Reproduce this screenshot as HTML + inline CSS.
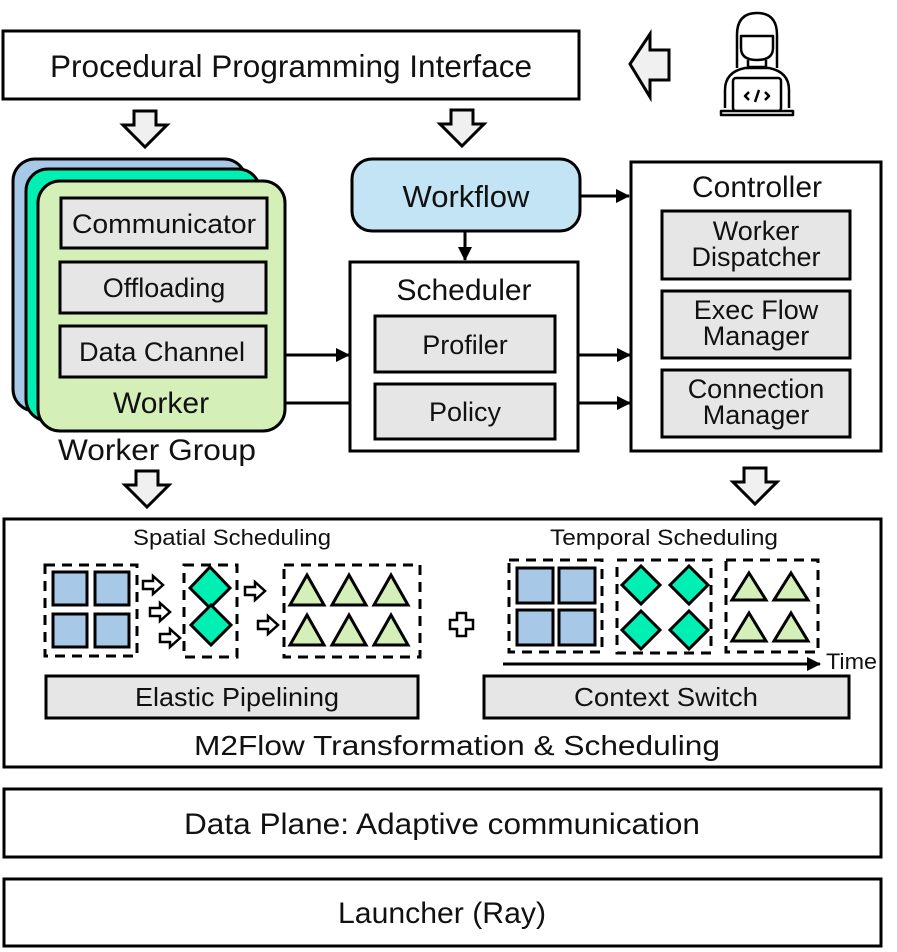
<!DOCTYPE html>
<html><head><meta charset="utf-8"><style>
html,body{margin:0;padding:0;background:#fff;}
svg{display:block;}
text{font-family:"Liberation Sans",sans-serif;fill:#111;}
</style></head><body>
<svg width="897" height="952" viewBox="0 0 897 952" xmlns="http://www.w3.org/2000/svg">
<defs>
<marker id="ah" markerWidth="14" markerHeight="14" refX="13" refY="7" orient="auto" markerUnits="userSpaceOnUse" viewBox="0 0 14 14"><path d="M0,0 L14,7 L0,14 z" fill="#000"/></marker>
<g id="dn"><path d="M-11,0 H11 V14 H22 L0,36 L-22,14 H-11 Z" fill="#f0f0f0" stroke="#000" stroke-width="3" stroke-linejoin="miter"/></g>
<g id="sa"><path d="M0,-4 H10 V-9 L20,0 L10,9 V4 H0 Z" fill="#fff" stroke="#000" stroke-width="2.5"/></g>
</defs>

<rect x="3" y="31" width="576" height="68" fill="#fff" stroke="#000" stroke-width="3"/>
<text x="291" y="77" font-size="31.5" text-anchor="middle" textLength="482" lengthAdjust="spacingAndGlyphs">Procedural Programming Interface</text>
<path d="M630,64 L650,34 V50 H669 V80 H650 V97 Z" fill="#f0f0f0" stroke="#000" stroke-width="3"/>
<g fill="none" stroke="#000" stroke-width="2.5" stroke-linejoin="round">
<path d="M737,68 V35 Q737,13 757,13 Q777,13 777,35 V68"/>
<path d="M741,36 H773 V48 Q773,60 757,60 Q741,60 741,48 Z"/>
<path d="M748,60 V67 H766 V60"/>
<path d="M725,108 V90 Q725,72 745,68 H769 Q789,72 789,90 V108"/>
<rect x="733" y="78" width="48" height="33" rx="3" fill="#fff"/>
<path d="M721,111 H793 V115 H721 Z" fill="#fff"/>
<path d="M749,92 L745,96 L749,100 M765,92 L769,96 L765,100 M759,90 L755,102"/>
</g>

<use href="#dn" x="145" y="111"/>
<use href="#dn" x="462" y="110"/>

<rect x="13" y="159" width="233" height="252" rx="22" fill="#a8c8e8" stroke="#000" stroke-width="3"/>
<rect x="26" y="169" width="234" height="252" rx="22" fill="#00f0b4" stroke="#000" stroke-width="3"/>
<rect x="38" y="181" width="247" height="250" rx="22" fill="#d5efb9" stroke="#000" stroke-width="3"/>
<rect x="61" y="198" width="206" height="50" fill="#e6e6e6" stroke="#000" stroke-width="3"/>
<text x="164" y="233" font-size="27" text-anchor="middle" textLength="184" lengthAdjust="spacingAndGlyphs">Communicator</text>
<rect x="60" y="262" width="206" height="51" fill="#e6e6e6" stroke="#000" stroke-width="3"/>
<text x="164" y="297" font-size="27" text-anchor="middle">Offloading</text>
<rect x="60" y="326" width="206" height="51" fill="#e6e6e6" stroke="#000" stroke-width="3"/>
<text x="162" y="361" font-size="27" text-anchor="middle" textLength="166" lengthAdjust="spacingAndGlyphs">Data Channel</text>
<text x="161" y="413" font-size="30" text-anchor="middle">Worker</text>
<text x="157" y="460" font-size="30" text-anchor="middle" textLength="198" lengthAdjust="spacingAndGlyphs">Worker Group</text>

<rect x="352" y="159" width="228" height="72" rx="20" fill="#c2e4f4" stroke="#000" stroke-width="3"/>
<text x="466" y="207" font-size="31" text-anchor="middle">Workflow</text>
<line x1="465" y1="232" x2="465" y2="260" stroke="#000" stroke-width="3" marker-end="url(#ah)"/>
<line x1="580" y1="196" x2="629" y2="196" stroke="#000" stroke-width="3" marker-end="url(#ah)"/>

<rect x="350" y="262" width="228" height="189" fill="#fff" stroke="#000" stroke-width="3"/>
<text x="464" y="300" font-size="30" text-anchor="middle">Scheduler</text>
<rect x="375" y="316" width="180" height="56" fill="#e6e6e6" stroke="#000" stroke-width="3"/>
<text x="465" y="354" font-size="27" text-anchor="middle">Profiler</text>
<rect x="375" y="384" width="180" height="55" fill="#e6e6e6" stroke="#000" stroke-width="3"/>
<text x="465" y="421" font-size="27" text-anchor="middle">Policy</text>
<line x1="285" y1="355" x2="349" y2="355" stroke="#000" stroke-width="3" marker-end="url(#ah)"/>
<line x1="285" y1="403" x2="350" y2="403" stroke="#000" stroke-width="3"/>
<line x1="578" y1="355" x2="630" y2="355" stroke="#000" stroke-width="3" marker-end="url(#ah)"/>
<line x1="578" y1="403" x2="630" y2="403" stroke="#000" stroke-width="3" marker-end="url(#ah)"/>

<rect x="631" y="162" width="250" height="289" fill="#fff" stroke="#000" stroke-width="3"/>
<text x="757" y="197" font-size="30" text-anchor="middle">Controller</text>
<rect x="662" y="211" width="188" height="68" fill="#e6e6e6" stroke="#000" stroke-width="3"/>
<text x="756" y="240" font-size="27" text-anchor="middle">Worker</text>
<text x="756" y="266" font-size="27" text-anchor="middle">Dispatcher</text>
<rect x="662" y="291" width="188" height="67" fill="#e6e6e6" stroke="#000" stroke-width="3"/>
<text x="756" y="319" font-size="27" text-anchor="middle">Exec Flow</text>
<text x="756" y="345" font-size="27" text-anchor="middle">Manager</text>
<rect x="662" y="370" width="188" height="67" fill="#e6e6e6" stroke="#000" stroke-width="3"/>
<text x="756" y="398" font-size="27" text-anchor="middle">Connection</text>
<text x="756" y="424" font-size="27" text-anchor="middle">Manager</text>

<use href="#dn" x="147" y="471"/>
<use href="#dn" x="755" y="468"/>

<rect x="4" y="519" width="877" height="248" fill="#fff" stroke="#000" stroke-width="3"/>
<text x="232" y="545" font-size="22" text-anchor="middle" textLength="198" lengthAdjust="spacingAndGlyphs">Spatial Scheduling</text>
<text x="664" y="545" font-size="22" text-anchor="middle" textLength="228" lengthAdjust="spacingAndGlyphs">Temporal Scheduling</text>

<g fill="none" stroke="#000" stroke-width="3" stroke-dasharray="10,7">
<rect x="45" y="565" width="92" height="91"/>
<rect x="184" y="565" width="53" height="92"/>
<rect x="284" y="565" width="136" height="92"/>
<rect x="509" y="560" width="93" height="92"/>
<rect x="617" y="560" width="94" height="93"/>
<rect x="726" y="560" width="92" height="92"/>
</g>
<g fill="#a8c8e8" stroke="#000" stroke-width="3">
<rect x="53" y="572" width="34" height="33"/><rect x="95" y="572" width="34" height="33"/>
<rect x="53" y="614" width="34" height="33"/><rect x="95" y="614" width="34" height="33"/>
<rect x="517" y="568" width="36" height="35"/><rect x="559" y="568" width="36" height="35"/>
<rect x="517" y="610" width="36" height="35"/><rect x="559" y="610" width="36" height="35"/>
</g>
<g fill="#00f0b4" stroke="#000" stroke-width="3">
<path d="M210,567 L230,588 L210,608 L190,588 Z"/>
<path d="M211,605 L231,625 L211,645 L191,625 Z"/>
<path d="M641,566 L660,585 L641,604 L622,585 Z"/>
<path d="M689,566 L708,585 L689,604 L670,585 Z"/>
<path d="M641,611 L660,630 L641,649 L622,630 Z"/>
<path d="M689,611 L708,630 L689,649 L670,630 Z"/>
</g>
<g fill="#d5efb9" stroke="#000" stroke-width="3" stroke-linejoin="miter">
<path d="M307,575 L324,605 L290,605 Z"/><path d="M349,575 L366,605 L332,605 Z"/><path d="M391,575 L408,605 L374,605 Z"/>
<path d="M307,615 L324,645 L290,645 Z"/><path d="M349,615 L366,645 L332,645 Z"/><path d="M391,615 L408,645 L374,645 Z"/>
<path d="M749,573 L766,600 L732,600 Z"/><path d="M791,573 L808,600 L774,600 Z"/>
<path d="M749,613 L766,641 L732,641 Z"/><path d="M791,613 L808,641 L774,641 Z"/>
</g>
<use href="#sa" x="143" y="585"/>
<use href="#sa" x="150" y="612"/>
<use href="#sa" x="160" y="638"/>
<use href="#sa" x="245" y="591"/>
<use href="#sa" x="258" y="625"/>
<path d="M457,613 H466 V620 H473 V629 H466 V636 H457 V629 H450 V620 H457 Z" fill="#fff" stroke="#000" stroke-width="2.5"/>
<line x1="503" y1="664" x2="820" y2="664" stroke="#000" stroke-width="3" marker-end="url(#ah)"/>
<text x="826" y="669" font-size="22" textLength="51" lengthAdjust="spacingAndGlyphs">Time</text>

<rect x="46" y="676" width="372" height="42" fill="#e6e6e6" stroke="#000" stroke-width="3"/>
<text x="237" y="706" font-size="26" text-anchor="middle" textLength="204" lengthAdjust="spacingAndGlyphs">Elastic Pipelining</text>
<rect x="484" y="676" width="365" height="42" fill="#e6e6e6" stroke="#000" stroke-width="3"/>
<text x="666" y="706" font-size="26" text-anchor="middle" textLength="184" lengthAdjust="spacingAndGlyphs">Context Switch</text>
<text x="457" y="755" font-size="28" text-anchor="middle" textLength="526" lengthAdjust="spacingAndGlyphs">M2Flow Transformation &amp; Scheduling</text>

<rect x="4" y="789" width="877" height="68" fill="#fff" stroke="#000" stroke-width="3"/>
<text x="442" y="834" font-size="30" text-anchor="middle" textLength="516" lengthAdjust="spacingAndGlyphs">Data Plane: Adaptive communication</text>
<rect x="4" y="879" width="877" height="67" fill="#fff" stroke="#000" stroke-width="3"/>
<text x="442" y="923" font-size="30" text-anchor="middle" textLength="208" lengthAdjust="spacingAndGlyphs">Launcher (Ray)</text>
</svg>
</body></html>
